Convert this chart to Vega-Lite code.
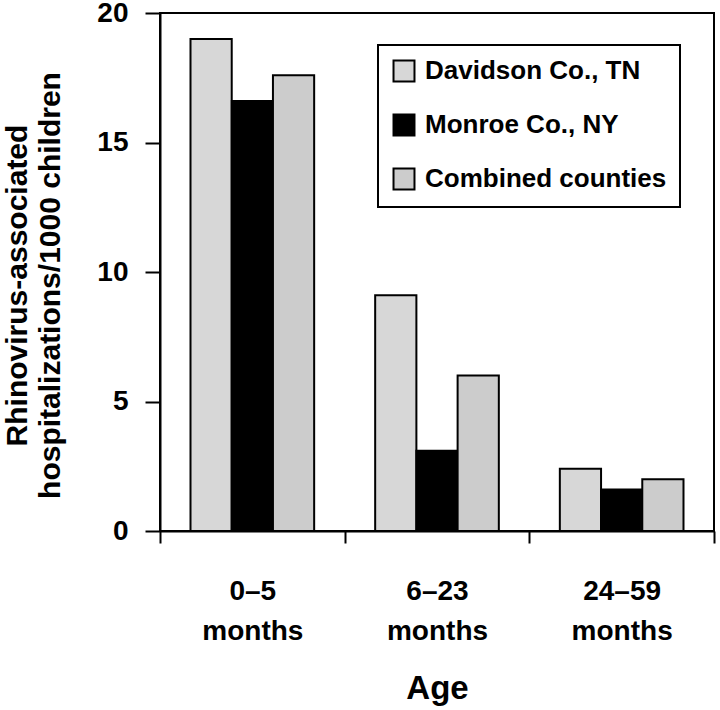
{
  "$schema": "https://vega.github.io/schema/vega-lite/v6.json",
  "width": 554,
  "height": 518,
  "autosize": {"type": "none"},
  "padding": {"left": 160, "top": 13, "right": 6, "bottom": 179},
  "background": "white",
  "config": {
    "font": "Liberation Sans",
    "view": {"stroke": "black", "strokeWidth": 2},
    "axis": {
      "domainColor": "black",
      "domainWidth": 2,
      "tickColor": "black",
      "tickWidth": 2,
      "labelColor": "black",
      "titleColor": "black",
      "labelFont": "Liberation Sans",
      "titleFont": "Liberation Sans",
      "labelFontWeight": "bold",
      "titleFontWeight": "bold",
      "grid": false
    }
  },
  "data": {
    "values": [
      {"age": "0–5 months", "county": "Davidson Co., TN", "rate": 19.0},
      {"age": "0–5 months", "county": "Monroe Co., NY", "rate": 16.6},
      {"age": "0–5 months", "county": "Combined counties", "rate": 17.6},
      {"age": "6–23 months", "county": "Davidson Co., TN", "rate": 9.1},
      {"age": "6–23 months", "county": "Monroe Co., NY", "rate": 3.1},
      {"age": "6–23 months", "county": "Combined counties", "rate": 6.0},
      {"age": "24–59 months", "county": "Davidson Co., TN", "rate": 2.4},
      {"age": "24–59 months", "county": "Monroe Co., NY", "rate": 1.6},
      {"age": "24–59 months", "county": "Combined counties", "rate": 2.0}
    ]
  },
  "mark": {"type": "bar", "stroke": "black", "strokeWidth": 2},
  "encoding": {
    "x": {
      "field": "age",
      "type": "nominal",
      "sort": ["0–5 months", "6–23 months", "24–59 months"],
      "scale": {"paddingInner": 0, "paddingOuter": 0},
      "axis": {
        "title": "Age",
        "titleFontSize": 33,
        "titlePadding": 27,
        "labelAngle": 0,
        "labelFontSize": 28,
        "labelLineHeight": 40,
        "labelPadding": 34,
        "labelExpr": "split(datum.label, ' ')",
        "tickBand": "extent",
        "tickSize": 12
      }
    },
    "xOffset": {
      "field": "county",
      "type": "nominal",
      "sort": ["Davidson Co., TN", "Monroe Co., NY", "Combined counties"],
      "scale": {"paddingInner": 0, "paddingOuter": 0.74}
    },
    "y": {
      "field": "rate",
      "type": "quantitative",
      "scale": {"domain": [0, 20], "nice": false},
      "axis": {
        "values": [0, 5, 10, 15, 20],
        "title": ["Rhinovirus-associated", "hospitalizations/1000 children"],
        "titleFontSize": 30,
        "titleLineHeight": 33,
        "titlePadding": 31,
        "titleY": 272,
        "labelFontSize": 28,
        "labelPadding": 17,
        "tickSize": 15
      }
    },
    "color": {
      "field": "county",
      "type": "nominal",
      "sort": ["Davidson Co., TN", "Monroe Co., NY", "Combined counties"],
      "scale": {
        "domain": ["Davidson Co., TN", "Monroe Co., NY", "Combined counties"],
        "range": ["#d7d7d7", "#000000", "#cccccc"]
      },
      "legend": {
        "title": null,
        "orient": "none",
        "legendX": 218,
        "legendY": 32,
        "strokeColor": "black",
        "padding": 13,
        "rowPadding": 24,
        "symbolType": "square",
        "symbolSize": 440,
        "symbolStrokeColor": "black",
        "symbolStrokeWidth": 2,
        "symbolOpacity": 1,
        "labelFontSize": 26,
        "labelFontWeight": "bold",
        "labelFont": "Liberation Sans",
        "labelColor": "black",
        "labelLimit": 400,
        "labelOffset": 8,
        "encode": {"legend": {"update": {"strokeWidth": {"value": 2}}}}
      }
    }
  }
}
